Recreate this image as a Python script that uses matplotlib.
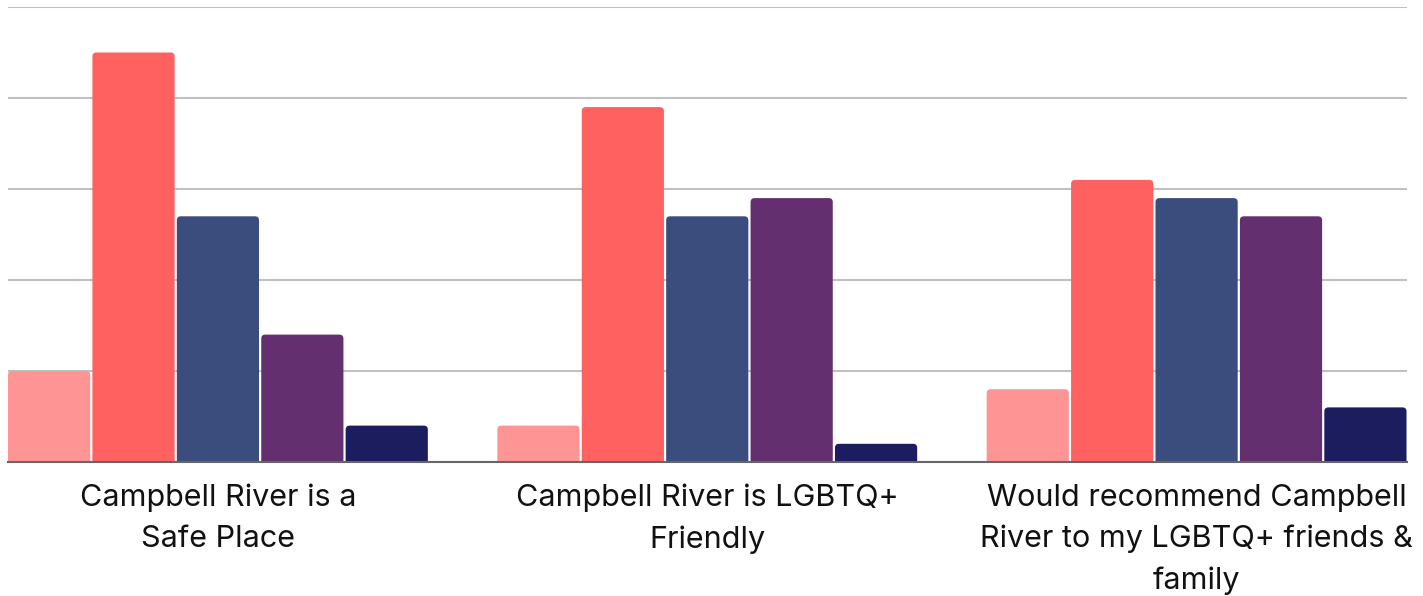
import numpy as np
import matplotlib
matplotlib.use("Agg")
import matplotlib.pyplot as plt
from matplotlib.patches import FancyBboxPatch

# Survey statements and response shares (%)
categories = [
    "Campbell River is a\nSafe Place",
    "Campbell River is LGBTQ+\nFriendly",
    "Would recommend Campbell\nRiver to my LGBTQ+ friends &\nfamily",
]
strongly_agree = [10, 4, 8]
agree = [45, 39, 31]
neutral = [27, 27, 29]
disagree = [14, 29, 27]
strongly_disagree = [4, 2, 6]

series = [strongly_agree, agree, neutral, disagree, strongly_disagree]
colors = ["#FF9494", "#FF6161", "#3B4D7C", "#632F6F", "#1B1D5E"]
y_ticks = [0, 10, 20, 30, 40, 50]

W, H = 1423, 596
fig = plt.figure(figsize=(W / 100, H / 100), dpi=100)
ax = fig.add_axes([8 / W, 134 / H, (1407 - 8) / W, (462 - 7) / H])

x = np.arange(len(categories))
pitch = 0.1725
bar_w = 0.168
offsets = (np.arange(len(series)) - 2) * pitch

ax.set_xlim(-0.429, 2.43)
ax.set_ylim(0, 50)

# pixel scale for rounded corners
px_x = (2.43 + 0.429) / (1407 - 8)
px_y = 50 / (462 - 7)
r = 4.0
rx = r * px_x
aspect = (r * px_y) / rx

for vals, off, col in zip(series, offsets, colors):
    rects = ax.bar(x + off, vals, width=bar_w, color=col, zorder=3)
    for rect in rects:
        rect.set_visible(False)
        x0, w, h = rect.get_x(), rect.get_width(), rect.get_height()
        patch = FancyBboxPatch(
            (x0, -1.0), w, h + 1.0,
            boxstyle=f"round,pad=0,rounding_size={rx}",
            mutation_aspect=aspect,
            facecolor=col, edgecolor="none", zorder=3,
            clip_on=True,
        )
        ax.add_patch(patch)

ax.set_yticks(y_ticks)
ax.yaxis.grid(True, color="#C0C0C0", linewidth=1.5, zorder=0)
ax.set_axisbelow(True)
ax.tick_params(axis="y", left=False, labelleft=False)
ax.tick_params(axis="x", bottom=False, pad=12)
ax.set_xticks(x)
ax.set_xticklabels(categories, fontsize=22, family="Inter", color="#111111",
                   linespacing=1.58, va="top")

for s in ["top", "left", "right"]:
    ax.spines[s].set_visible(False)
ax.spines["bottom"].set_color("#666666")
ax.spines["bottom"].set_linewidth(1.5)
ax.spines["bottom"].set_zorder(4)

fig.savefig("out.png", dpi=100, facecolor="white")
